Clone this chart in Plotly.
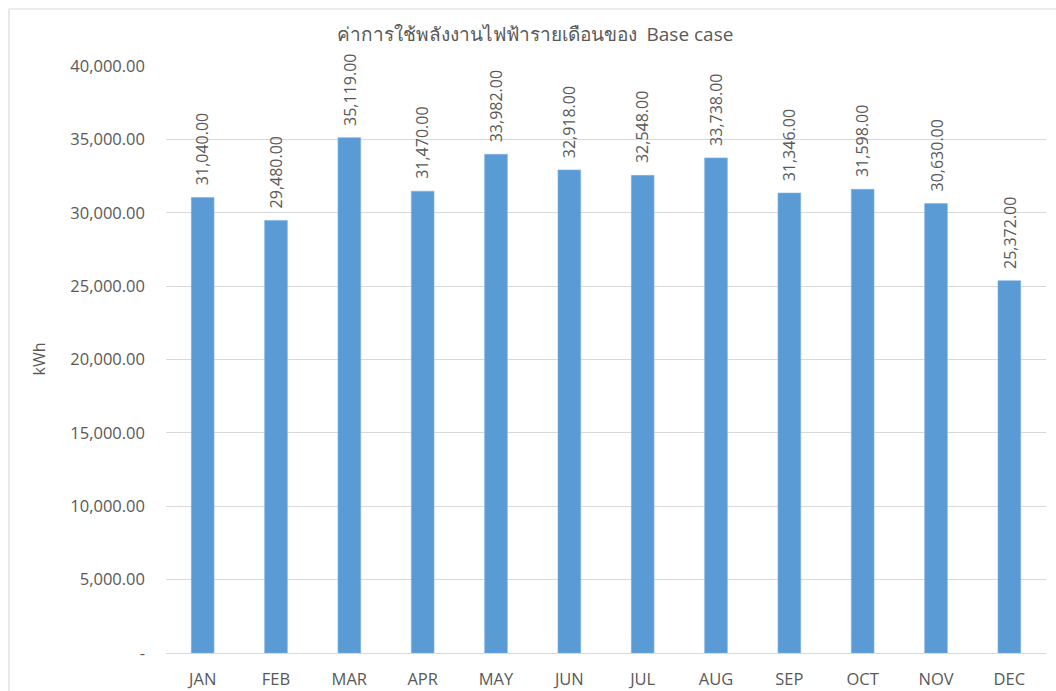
import plotly.graph_objects as go

months = ["JAN", "FEB", "MAR", "APR", "MAY", "JUN", "JUL", "AUG", "SEP", "OCT", "NOV", "DEC"]
energy_kwh = [31040, 29480, 35119, 31470, 33982, 32918, 32548, 33738, 31346, 31598, 30630, 25372]
y_ticks = [0, 5000, 10000, 15000, 20000, 25000, 30000, 35000, 40000]
y_tick_text = ["-"] + [f"{v:,.2f}" for v in y_ticks[1:]]

W, H = 1056, 691
L, R, T, B = 166, 10, 66, 38
plot_w = W - L - R
plot_h = H - T - B

TEXT = "#595959"
GRID = "#D9D9D9"
BAR = "#5B9BD5"
FONT = "Segoe UI, Open Sans, Noto Sans, DejaVu Sans, sans-serif"

fig = go.Figure(
    go.Bar(
        x=months,
        y=energy_kwh,
        marker=dict(color=BAR, line=dict(color="#7EB3E3", width=0.6)),
        width=0.31,
        hoverinfo="x+y",
    )
)

# value labels, rotated, sitting above each bar
for m, v in zip(months, energy_kwh):
    fig.add_annotation(
        x=m, y=v, text=f"{v:,.2f}", textangle=-90,
        showarrow=False, yanchor="bottom", xanchor="center", yshift=10,
        font=dict(size=16, color=TEXT, family=FONT),
    )

# y-axis title
fig.add_annotation(
    xref="paper", yref="paper", x=(38 - L) / plot_w, y=0.5,
    text="kWh", textangle=-90, showarrow=False,
    xanchor="center", yanchor="middle",
    font=dict(size=16, color=TEXT, family=FONT),
)

# chart frame
fig.add_shape(
    type="rect", xref="paper", yref="paper",
    x0=(9 - L) / plot_w, x1=(W + 5 - L) / plot_w,
    y0=-(H + 5 - T - plot_h) / plot_h, y1=(H - B - 9) / plot_h,
    line=dict(color=GRID, width=1.2), fillcolor="rgba(0,0,0,0)", layer="below",
)

fig.update_layout(
    width=W, height=H,
    margin=dict(l=L, r=R, t=T, b=B, pad=0, autoexpand=False),
    paper_bgcolor="white", plot_bgcolor="white",
    showlegend=False,
    font=dict(family=FONT, color=TEXT, size=16),
    title=dict(
        text="ค่าการใช้พลังงานไฟฟ้ารายเดือนของ  Base case",
        x=535 / W, xanchor="center", xref="container",
        y=1 - 34 / H, yanchor="middle", yref="container",
        font=dict(size=19, color=TEXT, family=FONT),
    ),
    xaxis=dict(
        showgrid=False, showline=False, zeroline=False,
        ticks="", ticklabelstandoff=14, automargin=False,
        tickfont=dict(size=16.5, color=TEXT),
        fixedrange=True,
    ),
    yaxis=dict(
        range=[0, 40000], tickvals=y_ticks, ticktext=y_tick_text,
        showgrid=True, gridcolor=GRID, gridwidth=1,
        zeroline=True, zerolinecolor=GRID, zerolinewidth=1,
        showline=False, ticks="", ticklabelstandoff=20, automargin=False,
        tickfont=dict(size=16.5, color=TEXT),
        fixedrange=True,
    ),
)

fig.write_html("out.html")
